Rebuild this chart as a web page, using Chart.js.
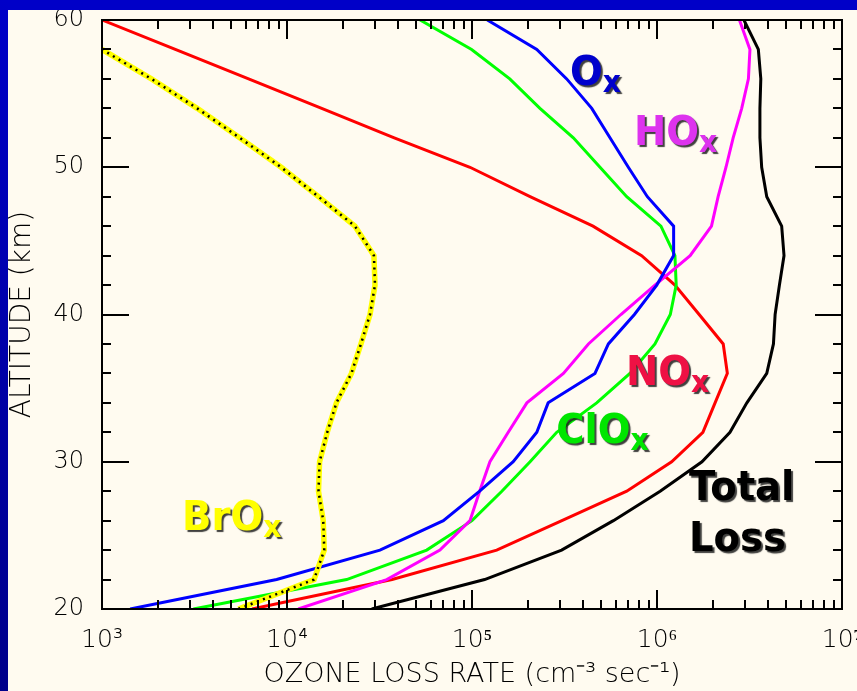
<!DOCTYPE html>
<html>
<head>
<meta charset="utf-8">
<script src="https://cdn.jsdelivr.net/npm/chart.js@4.4.1/dist/chart.umd.min.js"></script>
<style>
  html, body { margin: 0; padding: 0; background: #fffbf0; width: 857px; height: 691px; overflow: hidden; }
  #wrap { position: relative; width: 857px; height: 691px; }
  #topbar { position: absolute; left: 0; top: 0; width: 857px; height: 10px; background: #0000c8; }
  #leftbar { position: absolute; left: 0; top: 0; width: 8px; height: 691px; background: linear-gradient(#0000c8, #00008a); }
  canvas { position: absolute; left: 0; top: 0; }
</style>
</head>
<body>
<div id="wrap">
  <canvas id="c" width="857" height="691"></canvas>
  <div id="topbar"></div>
  <div id="leftbar"></div>
</div>
<script>
// Altitude levels (km)
const altitudeKm = [20, 22, 24, 26, 28, 30, 32, 34, 36, 38, 40, 42, 44, 46, 48, 50, 52, 54, 56, 58, 60];

// Ozone loss rates (cm^-3 s^-1) for each family
const totalLoss = [2.87e4, 1.17e5, 3.05e5, 5.81e5, 1.04e6, 1.75e6, 2.48e6, 3.06e6, 3.92e6, 4.26e6, 4.35e6,
                   4.59e6, 4.86e6, 4.72e6, 3.92e6, 3.68e6, 3.60e6, 3.60e6, 3.64e6, 3.53e6, 2.95e6];
const noxLoss   = [6.47e3, 3.7e4, 1.36e5, 3.06e5, 6.86e5, 1.20e6, 1.77e6, 2.06e6, 2.40e6, 2.28e6, 1.69e6,
                   1.25e6, 8.26e5, 4.51e5, 2.06e5, 9.75e4, 3.8e4, 1.54e4, 6.2e3, 2.49e3, 1.0e3];
const cloxLoss  = [3.12e3, 2.10e4, 5.69e4, 1.0e5, 1.45e5, 2.06e5, 2.87e5, 4.72e5, 7.14e5, 9.75e5, 1.18e6,
                   1.27e6, 1.25e6, 1.05e6, 6.86e5, 4.92e5, 3.53e5, 2.33e5, 1.60e5, 9.95e4, 5.24e4];
const oxLoss    = [1.42e3, 8.79e3, 3.18e4, 7.0e4, 1.10e5, 1.67e5, 2.24e5, 2.58e5, 4.62e5, 5.46e5, 7.55e5,
                   9.97e5, 1.23e6, 1.23e6, 8.87e5, 7.0e5, 5.57e5, 4.44e5, 3.25e5, 2.24e5, 1.21e5];
const hoxLoss   = [1.15e4, 3.46e4, 6.71e4, 9.75e4, 1.10e5, 1.25e5, 1.57e5, 1.98e5, 3.12e5, 4.26e5, 6.38e5,
                   9.75e5, 1.51e6, 1.97e6, 2.14e6, 2.36e6, 2.58e6, 2.87e6, 3.12e6, 3.18e6, 2.79e6];
const broxLoss  = [5.46e3, 1.40e4, 1.59e4, 1.57e4, 1.48e4, 1.50e4, 1.65e4, 1.85e4, 2.23e4, 2.51e4, 2.81e4,
                   2.99e4, 2.95e4, 2.33e4, 1.48e4, 9.3e3, 5.55e3, 3.27e3, 1.85e3, 1.0e3, null];

// Axis ticks and labels
const rateTicks = [1e3, 1e4, 1e5, 1e6, 1e7];
const rateTickLabels = ['10³', '10⁴', '10⁵', '10⁶', '10⁷'];
const altTicks = [20, 30, 40, 50, 60];
const altTickLabels = ['20', '30', '40', '50', '60'];

const toPoints = vals => altitudeKm.map((a, i) => ({ x: vals[i], y: a }));

// Inward-pointing tick marks on all four sides plus the plot box
function drawBoxTicks(chart) {
  const ctx = chart.ctx;
  const a = chart.chartArea;
  const xs = chart.scales.x;
  const ys = chart.scales.y;
  ctx.save();
  ctx.setLineDash([]);
  ctx.strokeStyle = '#000000';
  ctx.lineWidth = 2;
  ctx.beginPath();
  for (let v = 20; v <= 60; v += 2) {
    const py = Math.round(ys.getPixelForValue(v));
    const len = v % 10 === 0 ? 27 : 9;
    ctx.moveTo(a.left, py); ctx.lineTo(a.left + len, py);
    ctx.moveTo(a.right, py); ctx.lineTo(a.right - len, py);
  }
  for (let e = 3; e < 7; e++) {
    for (let m = 1; m <= 9; m++) {
      const px = Math.round(xs.getPixelForValue(m * Math.pow(10, e)));
      const len = m === 1 ? 19 : 9;
      ctx.moveTo(px, a.bottom); ctx.lineTo(px, a.bottom - len);
      ctx.moveTo(px, a.top); ctx.lineTo(px, a.top + len);
    }
  }
  ctx.rect(a.left, a.top, a.right - a.left, a.bottom - a.top);
  ctx.stroke();
  ctx.restore();
}

// Family names written beside their curves
const familyLabels = [
  { main: 'O',     sub: 'x', rate: 3.39e5, alt: 55.6,  color: '#0000cc' },
  { main: 'HO',    sub: 'x', rate: 7.52e5, alt: 51.5,  color: '#dd33ee' },
  { main: 'NO',    sub: 'x', rate: 6.79e5, alt: 35.2,  color: '#ee1144' },
  { main: 'ClO',   sub: 'x', rate: 2.85e5, alt: 31.27, color: '#00e600' },
  { main: 'BrO',   sub: 'x', rate: 2.71e3, alt: 25.37, color: '#ffff00' },
  { main: 'Total', sub: '',  rate: 1.49e6, alt: 27.4,  color: '#000000' },
  { main: 'Loss',  sub: '',  rate: 1.49e6, alt: 23.94, color: '#000000' }
];

function drawFamilyLabels(chart) {
  const ctx = chart.ctx;
  const xs = chart.scales.x;
  const ys = chart.scales.y;
  const sx = 0.94;
  familyLabels.forEach(l => {
    const px = xs.getPixelForValue(l.rate);
    const py = ys.getPixelForValue(l.alt);
    ctx.save();
    ctx.shadowColor = 'rgba(30,30,30,0.85)';
    ctx.shadowOffsetX = 2;
    ctx.shadowOffsetY = 2;
    ctx.shadowBlur = 1;
    ctx.fillStyle = l.color;
    ctx.textBaseline = 'alphabetic';
    ctx.textAlign = 'left';
    ctx.translate(px, py);
    ctx.scale(sx, 1);
    ctx.font = 'bold 41px "DejaVu Sans"';
    ctx.fillText(l.main, 0, 0);
    if (l.sub) {
      const w = ctx.measureText(l.main).width;
      ctx.font = 'bold 30px "DejaVu Sans"';
      ctx.fillText(l.sub, w, 7);
    }
    ctx.restore();
  });
}

const decorations = {
  id: 'decorations',
  afterDraw(chart) {
    drawBoxTicks(chart);
    drawFamilyLabels(chart);
  }
};

const line = (data, color, width, extra) => Object.assign({
  data: toPoints(data),
  showLine: true,
  borderColor: color,
  borderWidth: width,
  pointRadius: 0,
  tension: 0,
  fill: false
}, extra || {});

new Chart(document.getElementById('c'), {
  type: 'scatter',
  data: {
    datasets: [
      line(broxLoss, '#000000', 2.5, { borderDash: [2, 4.6], borderCapStyle: 'butt' }),
      line(broxLoss, '#ffff00', 5.5),
      line(oxLoss, '#0000ff', 3),
      line(hoxLoss, '#ff00ff', 3),
      line(cloxLoss, '#00ff00', 3),
      line(noxLoss, '#ff0000', 3),
      line(totalLoss, '#000000', 3)
    ]
  },
  options: {
    responsive: false,
    animation: false,
    devicePixelRatio: 1,
    layout: { padding: { top: 20, right: 15, left: 0, bottom: 0 } },
    plugins: { legend: { display: false }, tooltip: { enabled: false } },
    scales: {
      x: {
        type: 'logarithmic',
        position: 'bottom',
        min: 1e3,
        max: 1e7,
        grid: { display: false },
        border: { display: false },
        ticks: {
          autoSkip: false,
          maxRotation: 0,
          padding: 8,
          color: '#000',
          font: { family: 'DejaVu Sans', size: 25, weight: 200 },
          callback: v => {
            const i = rateTicks.findIndex(t => Math.abs(Math.log10(v) - Math.log10(t)) < 1e-6);
            return i >= 0 ? rateTickLabels[i] : '';
          }
        },
        title: {
          display: true,
          text: 'OZONE LOSS RATE (cm⁻³ sec⁻¹)',
          color: '#000',
          font: { family: 'DejaVu Sans', size: 27, weight: 200 },
          padding: 0
        },
        afterFit: s => { s.height = 82; s.paddingLeft = 0; s.paddingRight = 0; }
      },
      y: {
        type: 'linear',
        min: 20,
        max: 60,
        grid: { display: false },
        border: { display: false },
        ticks: {
          stepSize: 10,
          padding: 10,
          color: '#000',
          font: { family: 'DejaVu Sans', size: 24, weight: 200 },
          callback: v => {
            const i = altTicks.indexOf(v);
            return i >= 0 ? altTickLabels[i] : '';
          }
        },
        title: {
          display: true,
          text: 'ALTITUDE (km)',
          color: '#000',
          font: { family: 'DejaVu Sans', size: 28, weight: 200 },
          padding: { top: 6, bottom: 0 }
        },
        afterFit: s => { s.width = 102; s.paddingTop = 0; s.paddingBottom = 0; }
      }
    }
  },
  plugins: [decorations]
});
</script>
</body>
</html>
